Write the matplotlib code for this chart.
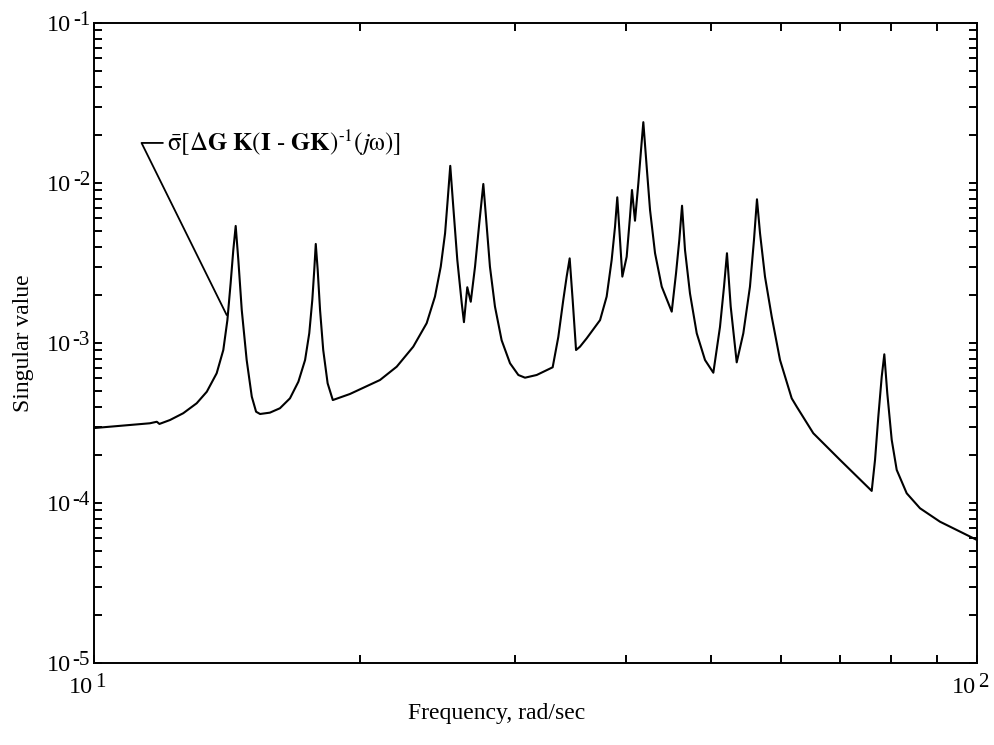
import math
import matplotlib
matplotlib.use("Agg")
import matplotlib.pyplot as plt
from matplotlib.ticker import LogLocator, NullFormatter

plt.rcParams["font.family"] = ["Liberation Serif", "DejaVu Serif"]
plt.rcParams["mathtext.fontset"] = "stix"

# frequency (rad/sec) and max singular value
freq = [10.00, 11.57, 11.78, 11.86, 12.19, 12.62, 13.07, 13.42, 13.77, 14.01,
        14.16, 14.28, 14.38, 14.47, 14.57, 14.70, 14.89, 15.09, 15.26, 15.42,
        15.82, 16.24, 16.67, 17.04, 17.34, 17.53, 17.67, 17.76, 17.83, 17.92,
        18.03, 18.18, 18.39, 18.64, 19.49, 21.08, 22.02, 22.99, 23.81, 24.33,
        24.70, 24.98, 25.15, 25.32, 25.52, 25.79, 26.09, 26.24, 26.47, 26.71,
        27.01, 27.31, 27.60, 27.79, 28.08, 28.45, 28.95, 29.59, 30.24, 30.77,
        31.72, 33.07, 33.56, 34.00, 34.30, 34.57, 34.84, 35.15, 35.51, 36.14,
        37.42, 38.07, 38.57, 38.91, 39.14, 39.42, 39.66, 40.11, 40.46, 40.67,
        40.99, 41.35, 41.64, 41.89, 42.26, 42.63, 43.19, 43.95, 45.11, 45.62,
        46.01, 46.34, 46.70, 47.31, 48.15, 49.20, 50.28, 51.16, 51.70, 52.10,
        52.61, 53.44, 54.37, 55.32, 55.90, 56.34, 56.79, 57.53, 58.55, 59.83,
        61.68, 62.49, 65.25, 69.96, 75.99, 76.65, 77.31, 78.00, 78.53, 79.14,
        80.06, 81.11, 83.25, 86.19, 90.80, 100.0]
sv = [2.94e-4, 3.15e-4, 3.22e-4, 3.12e-4, 3.30e-4, 3.64e-4, 4.20e-4, 4.96e-4, 6.47e-4, 9.04e-4,
      1.39e-3, 2.36e-3, 3.81e-3, 5.39e-3, 3.30e-3, 1.61e-3, 7.83e-4, 4.62e-4, 3.72e-4, 3.60e-4,
      3.67e-4, 3.91e-4, 4.51e-4, 5.73e-4, 7.83e-4, 1.15e-3, 1.86e-3, 2.86e-3, 4.16e-3, 2.86e-3,
      1.61e-3, 9.04e-4, 5.60e-4, 4.40e-4, 4.80e-4, 5.87e-4, 7.11e-4, 9.48e-4, 1.33e-3, 1.95e-3,
      3.00e-3, 4.85e-3, 7.83e-3, 1.28e-2, 7.11e-3, 3.30e-3, 1.77e-3, 1.35e-3, 2.23e-3, 1.81e-3,
      3.00e-3, 5.60e-3, 9.86e-3, 6.16e-3, 3.00e-3, 1.69e-3, 1.04e-3, 7.47e-4, 6.31e-4, 6.07e-4,
      6.31e-4, 7.05e-4, 1.09e-3, 1.86e-3, 2.60e-3, 3.38e-3, 1.86e-3, 9.04e-4, 9.48e-4, 1.07e-3,
      1.39e-3, 1.95e-3, 3.30e-3, 5.33e-3, 8.14e-3, 4.40e-3, 2.60e-3, 3.46e-3, 6.16e-3, 9.04e-3,
      5.81e-3, 9.96e-3, 1.61e-2, 2.40e-2, 1.26e-2, 6.78e-3, 3.64e-3, 2.25e-3, 1.57e-3, 2.73e-3,
      4.40e-3, 7.21e-3, 3.81e-3, 2.04e-3, 1.15e-3, 7.83e-4, 6.52e-4, 1.26e-3, 2.25e-3, 3.64e-3,
      1.69e-3, 7.57e-4, 1.15e-3, 2.25e-3, 4.40e-3, 7.91e-3, 4.85e-3, 2.60e-3, 1.46e-3, 7.83e-4,
      4.51e-4, 4.00e-4, 2.73e-4, 1.86e-4, 1.19e-4, 1.86e-4, 3.46e-4, 6.16e-4, 8.50e-4, 4.85e-4,
      2.48e-4, 1.61e-4, 1.15e-4, 9.27e-5, 7.64e-5, 5.87e-5]

x_decades = [10, 100]
y_decades = [1e-5, 1e-4, 1e-3, 1e-2, 1e-1]

HY = "\u2010"  # typographic hyphen
label = (r"$\bar{\mathrm{\sigma}}[\Delta\mathbf{G}\ \mathbf{K}(\mathbf{I}\ \mathrm{" + HY + r"}\ "
         r"\mathbf{GK})^{\mathrm{" + HY + r"1}}(j\mathrm{\omega})]$")

BASE_FS = 17.5
SUP_FS = 15

fig = plt.figure(figsize=(9.94, 7.45), dpi=100)
ax = fig.add_axes([94 / 994, 1 - 663 / 745, 883 / 994, 640 / 745])

ax.plot(freq, sv, color="black", lw=1.5)
ax.set_xscale("log")
ax.set_yscale("log")
ax.set_xlim(10, 100)
ax.set_ylim(1e-5, 1e-1)

# leader line + label
ax.plot([14.13, 11.32, 11.96], [1.50e-3, 1.78e-2, 1.78e-2], color="black", lw=1.3)
ax.text(12.10, 1.78e-2, label, fontsize=18, va="center", ha="left")

for axis in (ax.xaxis, ax.yaxis):
    axis.set_major_locator(LogLocator(base=10, numticks=10))
    axis.set_minor_locator(LogLocator(base=10, subs=range(2, 10), numticks=10))
    axis.set_major_formatter(NullFormatter())
    axis.set_minor_formatter(NullFormatter())

ax.tick_params(which="both", direction="in", top=True, right=True,
               length=5.5, width=1.4)
for s in ax.spines.values():
    s.set_linewidth(1.4)

# power-of-ten labels drawn as base + raised exponent, like the original
for xv in x_decades:
    e = str(int(round(math.log10(xv))))
    tr = ("data", "axes fraction")
    ax.annotate("10", (xv, 0), xycoords=tr, xytext=(-1, -30), textcoords="offset pixels",
                ha="right", va="baseline", fontsize=BASE_FS)
    ax.annotate(e, (xv, 0), xycoords=tr, xytext=(1, -24), textcoords="offset pixels",
                ha="left", va="baseline", fontsize=SUP_FS)
for yv in y_decades:
    e = str(int(round(math.log10(yv))))
    tr = ("axes fraction", "data")
    ax.annotate("10", (0, yv), xycoords=tr, xytext=(-23, -8), textcoords="offset pixels",
                ha="right", va="baseline", fontsize=BASE_FS)
    ax.annotate(e, (0, yv), xycoords=tr, xytext=(-4, -2), textcoords="offset pixels",
                ha="right", va="baseline", fontsize=SUP_FS)

ax.set_ylabel("Singular value", fontsize=17, labelpad=40)
fig.text(0.5, 1 - 713 / 745, "Frequency, rad/sec", fontsize=17, ha="center", va="center")

fig.savefig("out.png", dpi=100)
